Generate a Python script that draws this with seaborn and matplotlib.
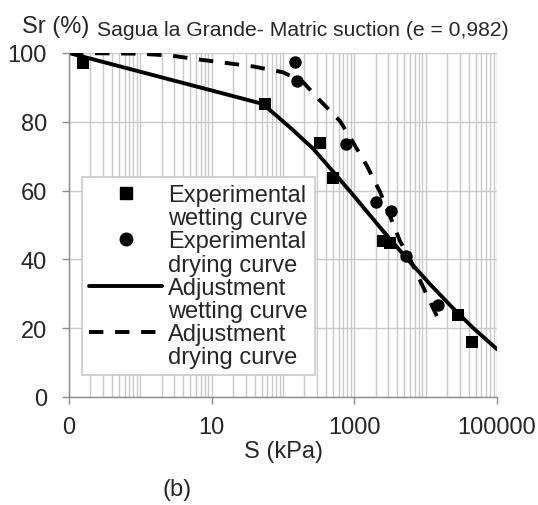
import matplotlib
matplotlib.use("Agg")
import matplotlib.pyplot as plt
import matplotlib.ticker as mticker
from matplotlib.lines import Line2D
import seaborn as sns

# Experimental points (S in kPa, Sr in %)
wet_s = [0.155, 56, 330, 498, 2530, 3160, 28600, 44000]
wet_sr = [97.1, 85.2, 73.8, 63.6, 45.4, 44.8, 23.9, 15.9]

dry_s = [147, 158, 770, 2020, 3290, 5380, 14900]
dry_sr = [97.3, 92.0, 73.5, 56.6, 54.2, 41.1, 26.7]

# Adjustment curves
wet_fit_s = [0.1, 52, 125, 264, 500, 1000, 2520, 5480,
             11500, 24200, 46100, 100000]
wet_fit_sr = [100, 85.2, 78.4, 72.2, 65.6, 58.3, 48.3,
              40.2, 32.8, 25.8, 20.1, 13.9]

dry_fit_s = [0.1, 1, 2.8, 6.7, 16, 38, 100, 190, 330, 630, 955, 1500,
             2290, 3160, 4370, 6030, 9190, 14500]
dry_fit_sr = [100, 99.8, 99.2, 98.1, 97.1, 96.1, 94.4, 91.6, 86.2,
              80.2, 74.1, 67.2, 59.6, 52.6, 45.3, 40.1, 32.0, 23.3]

x_ticks = [0.1, 10, 1000, 100000]
x_ticklabels = ["0", "10", "1000", "100000"]
y_ticks = [0, 20, 40, 60, 80, 100]

sns.set_style("white")
plt.rcParams["font.family"] = ["Liberation Sans", "DejaVu Sans"]

W, H = 538, 506
fig = plt.figure(figsize=(W / 100, H / 100), dpi=100)
ax = fig.add_axes([69 / W, 1 - 398 / H, 428 / W, 344 / H])

lw = 2.8
dash = (0, (3.7, 3.0))
sns.lineplot(x=wet_fit_s, y=wet_fit_sr, sort=False, estimator=None,
             color="black", lw=lw, ax=ax)
sns.lineplot(x=dry_fit_s, y=dry_fit_sr, sort=False, estimator=None,
             color="black", lw=lw, linestyle=dash, ax=ax)
sns.scatterplot(x=wet_s, y=wet_sr, marker="s", s=80, color="black",
                edgecolor="black", linewidth=0, ax=ax, zorder=3)
sns.scatterplot(x=dry_s, y=dry_sr, marker="o", s=80, color="black",
                edgecolor="black", linewidth=0, ax=ax, zorder=3)

ax.set_xscale("log")
ax.set_xlim(0.1, 100000)
ax.set_ylim(0, 100)
ax.set_xticks(x_ticks)
ax.set_xticklabels(x_ticklabels)
ax.xaxis.set_minor_locator(mticker.LogLocator(base=10, subs=range(1, 10), numticks=20))
ax.xaxis.set_minor_formatter(mticker.NullFormatter())
ax.set_yticks(y_ticks)

ax.grid(True, which="both", axis="x", color="#c8c8c8", lw=1)
ax.grid(True, which="major", axis="y", color="#c8c8c8", lw=1)
ax.set_axisbelow(True)

for side in ["left", "bottom"]:
    ax.spines[side].set_color("#8c8c8c")
    ax.spines[side].set_linewidth(1)
ax.spines["top"].set_visible(False)
ax.spines["right"].set_visible(False)

ax.tick_params(axis="both", which="major", labelsize=17, length=5,
               width=1, color="#8c8c8c", direction="out")
ax.tick_params(axis="x", which="major", pad=9, bottom=True)
ax.tick_params(axis="y", which="major", pad=11, left=True)
ax.tick_params(axis="x", which="minor", length=0)

ax.set_xlabel("S (kPa)", fontsize=17, labelpad=1)
ax.set_ylabel("")

# Legend: second line of each label has an empty handle
blank = Line2D([], [], linestyle="none")
handles = [
    Line2D([], [], linestyle="none", marker="s", color="black", markersize=9),
    blank,
    Line2D([], [], linestyle="none", marker="o", color="black", markersize=9),
    blank,
    Line2D([], [], color="black", lw=lw),
    blank,
    Line2D([], [], color="black", lw=lw, linestyle=dash),
    blank,
]
labels = ["Experimental", "wetting curve", "Experimental", "drying curve",
          "Adjustment", "wetting curve", "Adjustment", "drying curve"]
leg = ax.legend(handles, labels, loc="upper left",
                bbox_to_anchor=((82 - 69) / 428, (398 - 178) / 344),
                borderaxespad=0, fontsize=17, labelspacing=0.05,
                handlelength=3.1, handletextpad=0.25, borderpad=0.3,
                frameon=True, fancybox=False, framealpha=1,
                edgecolor="#c8c8c8")
leg.get_frame().set_linewidth(1.2)

fig.text(22 / W, 1 - 33 / H, "Sr (%)", fontsize=17, ha="left", va="baseline")
fig.text(97 / W, 1 - 36 / H, "Sagua la Grande- Matric suction (e = 0,982)",
         fontsize=15.2, ha="left", va="baseline")
fig.text(177 / W, 1 - 490 / H, "(b)", fontsize=17, ha="center", va="center")

fig.savefig("out.png", dpi=100)
